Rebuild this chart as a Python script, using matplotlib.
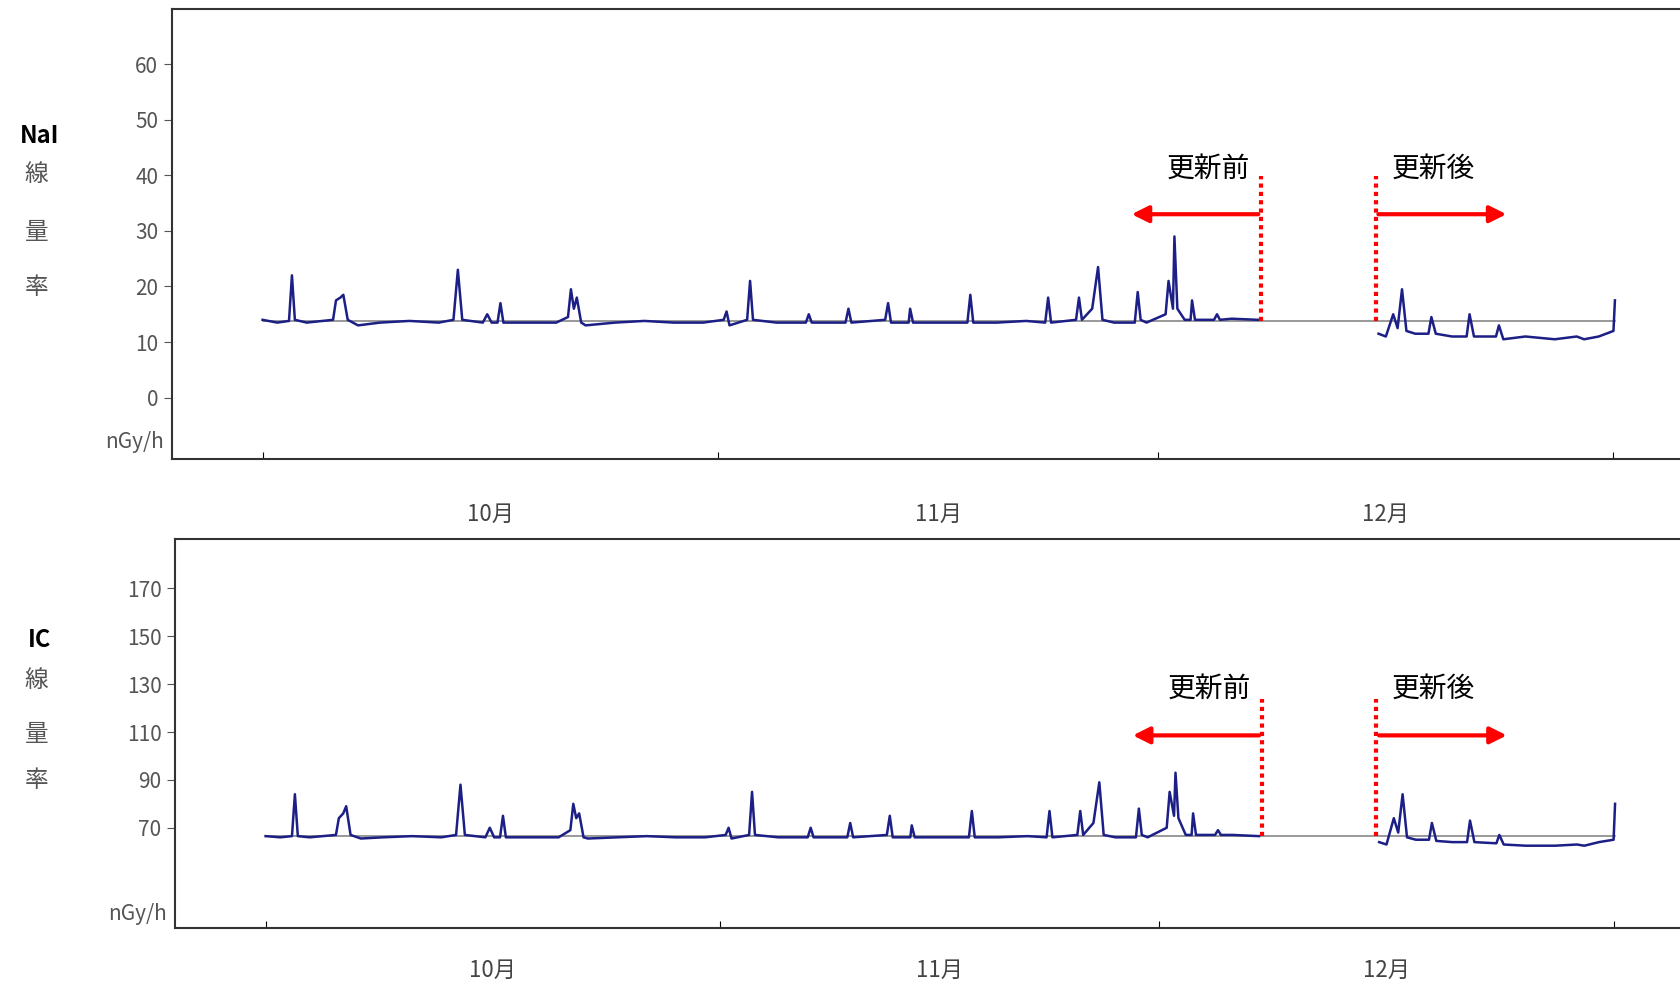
import matplotlib
matplotlib.use("Agg")
import matplotlib.pyplot as plt

plt.rcParams['font.family'] = ['Noto Sans CJK JP', 'DejaVu Sans']

# days since Oct 1
days_pre = [0, 1, 1.8, 2.0, 2.2, 3, 4.8, 5.0, 5.3, 5.5, 5.8, 6.5, 8, 10, 12, 13.0, 13.3, 13.6,
            15, 15.3, 15.6, 16.0, 16.2, 16.4, 18, 20, 20.8, 21.0, 21.2, 21.4, 21.7, 22, 24, 26,
            28, 30, 31.4, 31.6, 31.8, 33.0, 33.2, 33.4, 35, 37.0, 37.2, 37.4, 39.7, 39.9, 40.1,
            42.4, 42.6, 42.8, 44.0, 44.1, 44.3, 46, 48.0, 48.2, 48.4, 50, 52, 53.3, 53.5, 53.7,
            55.4, 55.6, 55.8, 56.5, 56.9, 57.2, 58, 59.4, 59.6, 59.8, 60.2, 61.5, 61.7, 62.0,
            62.1, 62.3, 62.8, 63.2, 63.3, 63.5, 64.8, 65.0, 65.2, 66, 67.8]
nai_pre = [14, 13.5, 13.8, 22, 14, 13.5, 14, 17.5, 18, 18.5, 14, 13, 13.5, 13.8, 13.5, 14, 23, 14,
           13.5, 15, 13.5, 13.5, 17, 13.5, 13.5, 13.5, 14.5, 19.5, 16, 18, 13.5, 13, 13.5, 13.8,
           13.5, 13.5, 14, 15.5, 13, 14, 21, 14, 13.5, 13.5, 15, 13.5, 13.5, 16, 13.5,
           14, 17, 13.5, 13.5, 16, 13.5, 13.5, 13.5, 18.5, 13.5, 13.5, 13.8, 13.5, 18, 13.5,
           14, 18, 14, 16, 23.5, 14, 13.5, 13.5, 19, 14, 13.5, 15, 21, 16,
           29, 16, 14, 14, 17.5, 14, 14, 15, 14, 14.2, 14]
ic_pre = [66.5, 66, 66.5, 84, 66.5, 66, 67, 74, 76, 79, 67, 65.5, 66, 66.5, 66, 67, 88, 67,
          66, 70, 66, 66, 75, 66, 66, 66, 69, 80, 74, 76, 66, 65.5, 66, 66.5,
          66, 66, 67, 70, 65.5, 67, 85, 67, 66, 66, 70, 66, 66, 72, 66,
          67, 75, 66, 66, 71, 66, 66, 66, 77, 66, 66, 66.5, 66, 77, 66,
          67, 77, 67, 72, 89, 67, 66, 66, 78, 67, 66, 70, 85, 75,
          93, 74, 67, 67, 76, 67, 67, 69, 67, 67, 66.5]

days_post = [76.0, 76.5, 77.0, 77.3, 77.6, 77.9, 78.5, 79.4, 79.6, 79.9, 81, 82.0, 82.2, 82.5,
             84, 84.2, 84.5, 86, 88, 89.5, 90, 91, 92.0, 92.1]
nai_post = [11.5, 11, 15, 12.5, 19.5, 12, 11.5, 11.5, 14.5, 11.5, 11, 11, 15, 11,
            11, 13, 10.5, 11, 10.5, 11, 10.5, 11, 12, 17.5]
ic_post = [64, 63, 74, 68, 84, 66, 65, 65, 72, 64.5, 64, 64, 73, 64,
           63.5, 67, 63, 62.5, 62.5, 63, 62.5, 64, 65, 80]

month_ticks = [0, 31, 61, 92]
month_labels = ['10月', '11月', '12月']
line_col = '#1c1f86'
W, H = 1568, 918

fig = plt.figure(figsize=(16.81, 9.84), dpi=100)


def panel(rect, pre, post, base, ylim, yticks, unit_y, vline_top, arrow_y, text_y, name,
          label_ys, mpad):
    ax = fig.add_axes(rect)
    ax.plot([0, 92.1], [base, base], color='#888888', lw=1.2, zorder=1)
    ax.plot(days_pre, pre, color=line_col, lw=1.8, zorder=2)
    ax.plot(days_post, post, color=line_col, lw=1.8, zorder=2)
    ax.set_xlim(-6.2, 96.6)
    ax.set_ylim(*ylim)
    ax.set_yticks(yticks)
    ax.tick_params(axis='y', colors='#555555', labelsize=15, length=6)
    ax.set_xticks(month_ticks)
    ax.set_xticklabels([])
    ax.set_xticks([15.5, 46, 76.5], minor=True)
    ax.set_xticklabels(month_labels, minor=True, fontsize=16, color='#444444')
    ax.tick_params(axis='x', which='minor', length=0, pad=mpad)
    ax.tick_params(axis='x', which='major', length=5, direction='in')
    ax.spines['right'].set_visible(False)
    for s in ['left', 'bottom', 'top']:
        ax.spines[s].set_color('#333333')
        ax.spines[s].set_linewidth(1.5)
    ax.text(-0.005, unit_y, 'nGy/h', transform=ax.get_yaxis_transform(), ha='right',
            va='center', fontsize=15, color='#555555')
    for xv in (68.0, 75.8):
        ax.plot([xv, xv], [base, vline_top], color='red', lw=3, ls=(0, (1, 1)), zorder=3)
    ax.annotate('', xy=(59, arrow_y), xytext=(68.0, arrow_y),
                arrowprops=dict(arrowstyle='-|>,head_width=0.5,head_length=1', color='red', lw=3))
    ax.annotate('', xy=(84.9, arrow_y), xytext=(75.8, arrow_y),
                arrowprops=dict(arrowstyle='-|>,head_width=0.5,head_length=1', color='red', lw=3))
    ax.text(64.4, text_y, '更新前', ha='center', va='bottom', fontsize=20)
    ax.text(79.7, text_y, '更新後', ha='center', va='bottom', fontsize=20)
    fig.text(37 / W, 1 - label_ys[0] / H, name, ha='center', va='center', fontsize=17,
             fontweight='bold')
    for ch, yy in zip(['線', '量', '率'], label_ys[1:]):
        fig.text(34 / W, 1 - yy / H, ch, ha='center', va='center', fontsize=17, color='#555555')
    return ax


panel([160 / W, 1 - 428 / H, 1 - 160 / W, 420 / H], nai_pre, nai_post, 13.8,
      (-11, 70), [0, 10, 20, 30, 40, 50, 60], -8, 39.8, 33, 38.5, 'NaI',
      [127, 163, 217, 268], 32)
panel([163 / W, 1 - 866 / H, 1 - 163 / W, 363 / H], ic_pre, ic_post, 66.5,
      (28, 190.6), [70, 90, 110, 130, 150, 170], 34, 124, 108.6, 122, 'IC',
      [597, 635, 685, 728], 22)

fig.savefig('out.png', dpi=100)
